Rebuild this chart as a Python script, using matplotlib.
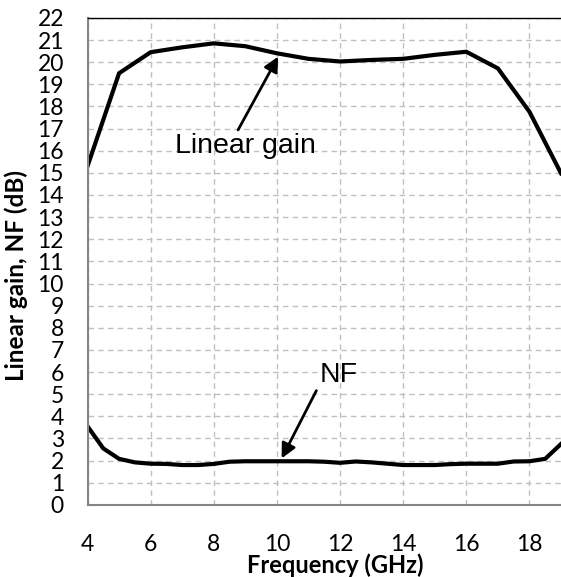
import numpy as np
import matplotlib
matplotlib.use("Agg")
import matplotlib.pyplot as plt

# ---> gain sampled every 1 GHz, NF every 0.5 GHz
freq_gain = [4, 5, 6, 7, 8, 9, 10, 11, 12, 13, 14, 15, 16, 17, 18, 19]
gain_db = [15.3, 19.5, 20.45, 20.67, 20.85, 20.72, 20.4, 20.15, 20.03,
           20.1, 20.15, 20.33, 20.47, 19.72, 17.76, 14.98]

freq_nf = [4, 4.5, 5, 5.5, 6, 6.5, 7, 7.5, 8, 8.5, 9, 9.5, 10, 10.5, 11,
           11.5, 12, 12.5, 13, 13.5, 14, 14.5, 15, 15.5, 16, 16.5, 17,
           17.5, 18, 18.5, 19]
nf_db = [3.55, 2.55, 2.08, 1.92, 1.86, 1.85, 1.8, 1.8, 1.85, 1.95, 1.97,
         1.97, 1.97, 1.97, 1.97, 1.95, 1.9, 1.96, 1.92, 1.86, 1.8, 1.8,
         1.8, 1.84, 1.86, 1.86, 1.86, 1.96, 1.97, 2.08, 2.75]

xticks = [4, 6, 8, 10, 12, 14, 16, 18]
yticks = list(range(0, 23))

fig = plt.figure(figsize=(5.61, 5.77), dpi=100)
ax = fig.add_axes([0.156, 0.125, 0.844, 0.844])

ax.plot(freq_gain, gain_db, color='black', lw=3, solid_joinstyle='miter')
ax.plot(freq_nf, nf_db, color='black', lw=3)

ax.set_xlim(4, 19)
ax.set_ylim(0, 22)
ax.set_xticks(xticks)
ax.set_yticks(yticks)
ax.grid(True, color='#c0c0c0', ls=(0, (4, 3)), lw=1)
ax.set_axisbelow(True)

ax.tick_params(axis='both', length=0, labelsize=16.5)
ax.tick_params(axis='x', pad=21)
ax.tick_params(axis='y', pad=17)
for lab in ax.get_xticklabels() + ax.get_yticklabels():
    lab.set_family('Lato')

for s in ['left', 'bottom']:
    ax.spines[s].set_color('#858585')
    ax.spines[s].set_linewidth(1.5)
ax.spines['top'].set_color('black')
ax.spines['top'].set_linewidth(1)
ax.spines['right'].set_visible(False)

ax.set_xlabel('Frequency (GHz)', family='Lato', weight='bold', fontsize=17)
ax.xaxis.set_label_coords(0.523, -0.099)
ax.set_ylabel('Linear gain, NF (dB)', family='Lato', weight='bold', fontsize=17.5)
ax.yaxis.set_label_coords(-0.125, 0.472)

arrow = dict(arrowstyle='-|>', color='black', lw=2, mutation_scale=22, shrinkA=0, shrinkB=0)
ax.annotate('', xy=(10.04, 20.25), xytext=(8.77, 16.94), arrowprops=arrow)
ax.text(6.77, 15.88, 'Linear gain', family='Liberation Sans', fontsize=20.5,
        ha='left', va='baseline')
ax.annotate('', xy=(10.15, 2.1), xytext=(11.25, 5.16), arrowprops=arrow)
ax.text(11.36, 5.57, 'NF', family='Liberation Sans', fontsize=20.5,
        ha='left', va='baseline')

fig.savefig('out.png', dpi=100)
